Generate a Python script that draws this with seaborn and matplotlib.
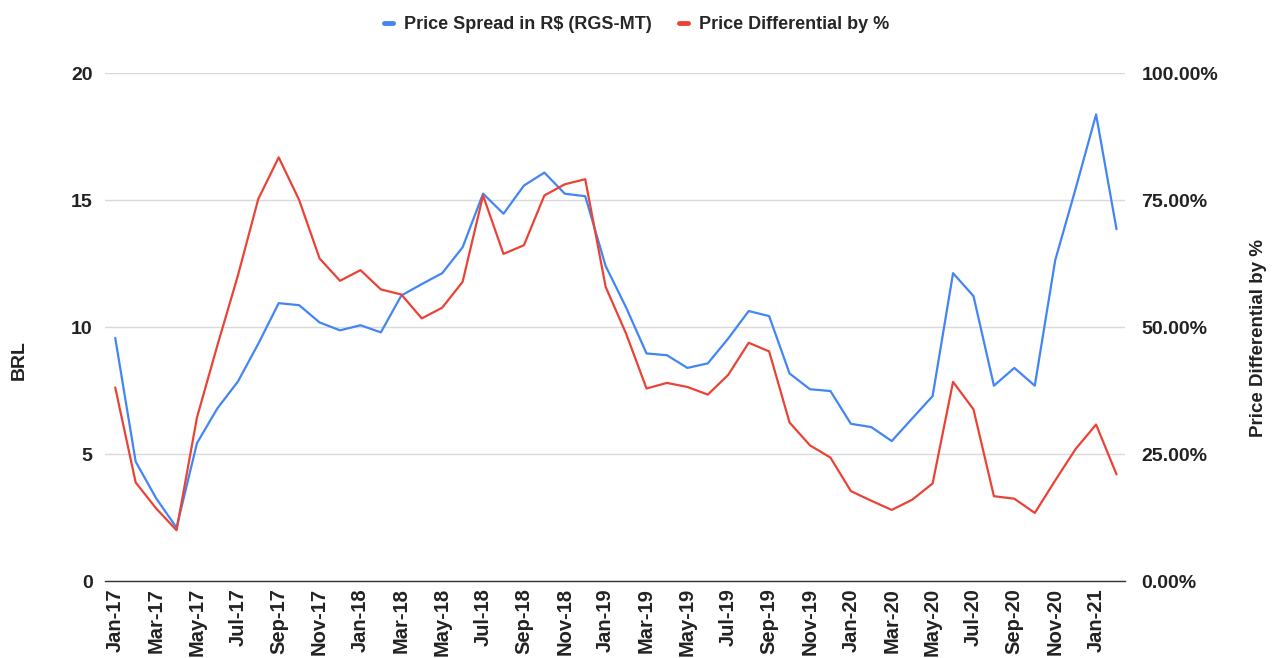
import matplotlib
matplotlib.use("Agg")
import matplotlib.pyplot as plt
import seaborn as sns
import pandas as pd
import numpy as np
from matplotlib.ticker import FuncFormatter, FixedLocator
from matplotlib.lines import Line2D

months = pd.date_range("2017-01-01", "2021-02-01", freq="MS")
month_labels = [d.strftime("%b-%y") for d in months]

spread_brl = [9.57, 4.70, 3.26, 2.10, 5.43, 6.80, 7.85, 9.34, 10.94, 10.86,
              10.18, 9.87, 10.07, 9.79, 11.24, 11.69, 12.12, 13.14, 15.25, 14.46,
              15.57, 16.08, 15.25, 15.15, 12.40, 10.77, 8.96, 8.89, 8.39, 8.57,
              9.55, 10.63, 10.43, 8.17, 7.55, 7.48, 6.19, 6.06, 5.51, 6.40,
              7.28, 12.12, 11.22, 7.69, 8.39, 7.69, 12.63, 15.45, 18.37, 13.85]

diff_pct = [38.1, 19.4, 14.3, 10.0, 32.2, 46.4, 60.1, 75.2, 83.4, 75.0,
            63.5, 59.1, 61.2, 57.4, 56.4, 51.7, 53.8, 58.9, 75.9, 64.4,
            66.1, 75.9, 78.1, 79.1, 57.9, 48.7, 37.9, 39.0, 38.2, 36.7,
            40.6, 46.9, 45.2, 31.2, 26.7, 24.3, 17.7, 15.8, 14.0, 16.0,
            19.2, 39.2, 33.8, 16.7, 16.2, 13.4, 19.8, 26.0, 30.8, 21.0]

left_ticks = [0, 5, 10, 15, 20]
right_ticks = [0, 25, 50, 75, 100]

BLUE = "#4285F4"
RED = "#EA4335"

sns.set_theme(style="white")
plt.rcParams["font.family"] = ["Liberation Sans", "DejaVu Sans"]

df = pd.DataFrame({"idx": np.arange(len(months)), "spread": spread_brl, "diff": diff_pct})

fig = plt.figure(figsize=(12.73, 6.58), dpi=100)
ax = fig.add_axes([0.0825, 0.117, 0.801, 0.772])
ax2 = ax.twinx()

sns.lineplot(data=df, x="idx", y="spread", ax=ax, color=BLUE, linewidth=1.6, zorder=3)
sns.lineplot(data=df, x="idx", y="diff", ax=ax2, color=RED, linewidth=1.6, zorder=3)

ax.set_xlim(-0.5, 49.4)
ax.set_ylim(0, 20)
ax2.set_ylim(0, 100)
ax.set_yticks(left_ticks)
ax2.set_yticks(right_ticks)
ax2.yaxis.set_major_formatter(FuncFormatter(lambda v, p: f"{v:.2f}%"))

ax.grid(axis="y", color="#d9d9d9", linewidth=1)
ax.set_axisbelow(True)
ax2.grid(False)
ax.xaxis.grid(False)

tick_pos = list(range(0, len(months), 2))
ax.xaxis.set_major_locator(FixedLocator(tick_pos))
ax.set_xticklabels([month_labels[i] for i in tick_pos], rotation=90,
                   fontsize=14.5, fontweight="bold", color="#222222")

for a in (ax, ax2):
    for s in a.spines.values():
        s.set_visible(False)
ax.spines["bottom"].set_visible(True)
ax.spines["bottom"].set_color("#333333")
ax.spines["bottom"].set_linewidth(1)

ax.tick_params(axis="y", labelsize=14, pad=9, length=0)
ax2.tick_params(axis="y", labelsize=14, pad=12, length=0)
ax.tick_params(axis="x", length=0, pad=5)
for lbl in ax.get_yticklabels() + ax2.get_yticklabels():
    lbl.set_fontweight("bold")
    lbl.set_color("#222222")

ax.set_xlabel("")
ax.set_ylabel("BRL", fontsize=14, fontweight="bold", color="#222222")
ax.yaxis.set_label_coords(-0.0755, 0.435)
ax2.set_ylabel("Price Differential by %", fontsize=13.5, fontweight="bold",
               color="#222222")
ax2.yaxis.set_label_coords(1.1225, 0.478)

handles = [Line2D([], [], color=BLUE, linewidth=3.5),
           Line2D([], [], color=RED, linewidth=3.5)]
fig.legend(handles, ["Price Spread in R$ (RGS-MT)", "Price Differential by %"],
           loc="upper center", bbox_to_anchor=(0.5, 1.0), ncol=2, frameon=False,
           handlelength=0.5, handletextpad=0.6, columnspacing=1.5,
           prop={"weight": "bold", "size": 13})

fig.savefig("out.png", dpi=100)
